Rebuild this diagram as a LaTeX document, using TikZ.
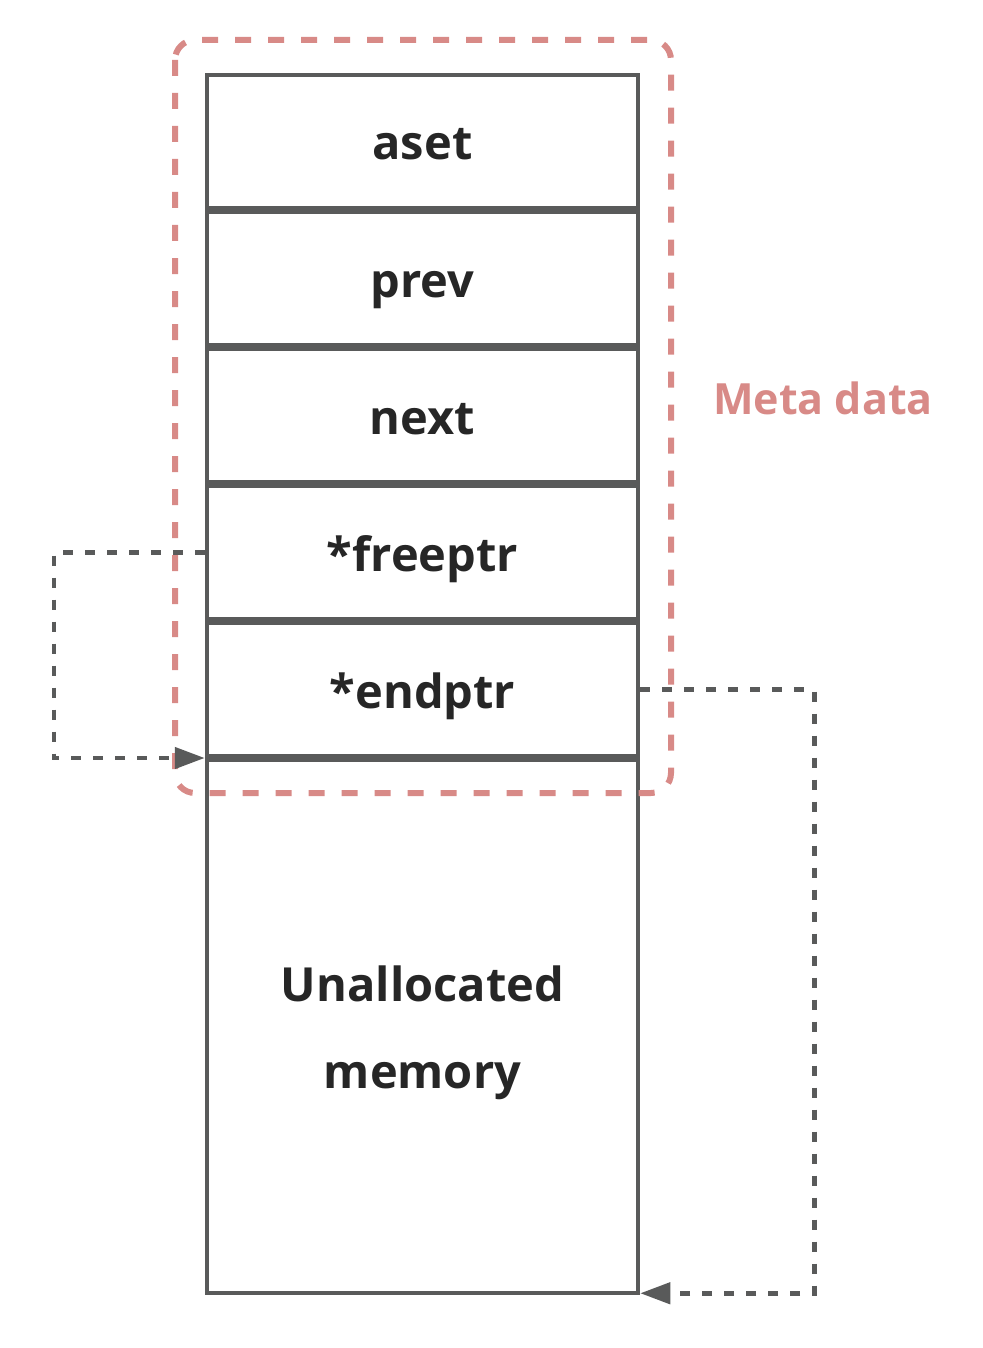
\documentclass[tikz,border=0pt]{standalone}
\usepackage{fontspec}
\setmainfont{Open Sans}
\usetikzlibrary{arrows.meta,calc}
\definecolor{boxgray}{RGB}{89,90,90}
\definecolor{metared}{RGB}{216,138,135}
\definecolor{txt}{RGB}{38,38,38}
\tikzset{
  cell/.style={draw=boxgray, line width=4.5pt, minimum width=431pt, minimum height=133pt, inner sep=0pt, text=txt, font=\fontsize{47}{87}\selectfont\bfseries, align=center, text height=40pt, text depth=3pt},
  ptr/.style={draw=boxgray, line width=4.5pt, dash pattern=on 10pt off 12pt, -{Triangle[length=30pt,width=21pt]}},
  metabox/.style={draw=metared, line width=6pt, dash pattern=on 16pt off 17pt, rounded corners=20pt}
}
\begin{document}
\begin{tikzpicture}[x=1pt,y=-1pt]
\useasboundingbox (0,0) rectangle (982,1348);
\node[cell] (aset) at (422.5,141.5) {aset};
\node[cell] (prev) at (422.5,278.5) {prev};
\node[cell] (next) at (422.5,415.5) {next};
\node[cell] (freeptr) at (422.5,552.5) {*freeptr};
\node[cell] (endptr) at (422.5,689.5) {*endptr};
\node[cell, minimum height=533pt, text height=, text depth=] (unalloc) at (422.5,1026.5) {\rule{0pt}{49pt}Unallocated\\memory};
\coordinate (gap) at ($(endptr.south west)!0.5!(unalloc.north west)$);
\draw[metabox] (175,40) rectangle (671,793);
\node[text=metared, font=\fontsize{43}{52}\selectfont\bfseries] (meta) at (823,398) {Meta data};
\draw[ptr] (freeptr.west) -- ++(-151,0) |- (gap);
\draw[ptr] (endptr.east) -- ++(174,0) |- ([yshift=2pt]unalloc.south east);
\end{tikzpicture}
\end{document}
